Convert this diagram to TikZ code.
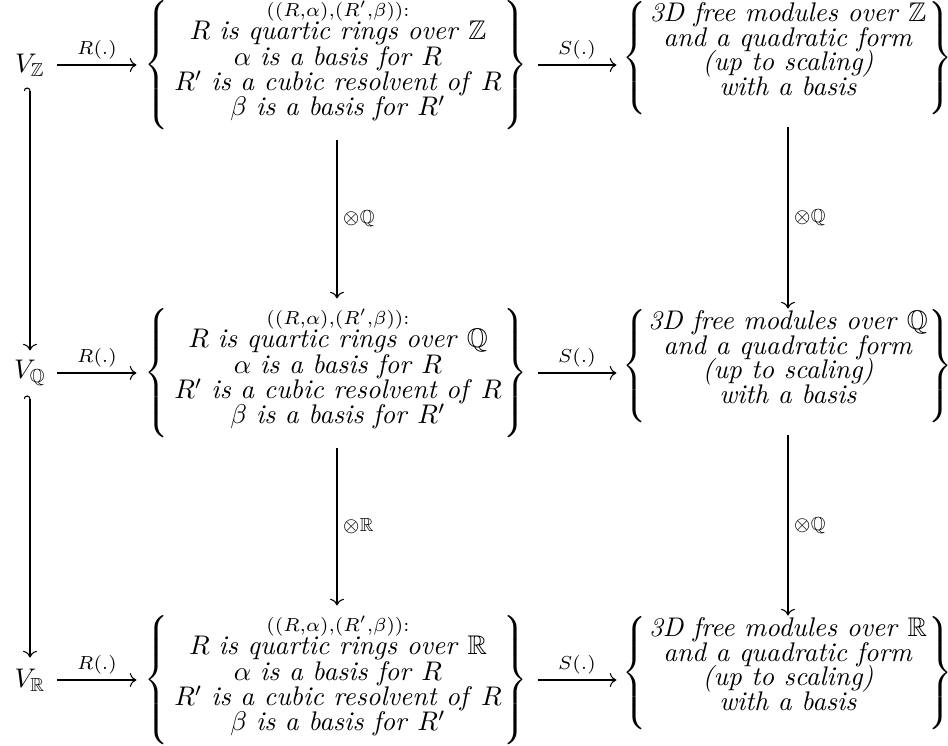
\documentclass[tikz,border=0pt]{standalone}
\usepackage{amssymb}
\usetikzlibrary{arrows.meta}
\delimiterfactor=1000
\delimitershortfall=0pt
\begin{document}
\begin{tikzpicture}[x=0.371pt,y=-0.371pt,
  vbox/.style={inner sep=0pt, minimum width=20.0pt, minimum height=16.3pt},
  mbox/.style={inner sep=0pt, minimum width=148.4pt, minimum height=54.9pt},
  sbox/.style={inner sep=0pt, minimum width=126.9pt, minimum height=46.7pt},
  txt/.style={inner sep=0pt, anchor=base},
  brc/.style={inner sep=0pt, anchor=center},
  arr/.style={->, line width=0.4pt},
  hookarr/.style={{Hooks[left]}->, line width=0.4pt},
  lbl/.style={font=\scriptsize, inner sep=2pt}]
\useasboundingbox (0,0) rectangle (948,746);
\foreach \ry/\ii/\fld in {65/1/Z,373/2/Q,680/3/R}{
  \node[vbox] (v\ii) at (30,\ry) {$V_{\mathbb{\fld}}$};
  \node[mbox] (m\ii) at (337,\ry) {};
  \node[sbox] (s\ii) at (788,\ry-1) {};
  % middle box
  \node[brc] (ml\ii) at (158,\ry) {$\left\{\vcenter{\hrule height 46.5pt width 0pt}\right.$};
  \node[brc] (mr\ii) at (514,\ry) {$\left.\vcenter{\hrule height 46.5pt width 0pt}\right\}$};
  \node[txt] (ma\ii) at (338,\ry-48.5) {$\scriptstyle((R,\alpha),(R',\beta)):$};
  \node[txt] (mb\ii) at (338,\ry-25) {$R$ \textit{is quartic rings over} $\mathbb{\fld}$};
  \node[txt] (mc\ii) at (338,\ry+0.5) {$\alpha$ \textit{is a basis for} $R$};
  \node[txt] (md\ii) at (338,\ry+26) {$R'$ \textit{is a cubic resolvent of} $R$};
  \node[txt] (me\ii) at (338,\ry+51) {$\beta$ \textit{is a basis for} $R'$};
  % right box
  \node[brc] (sl\ii) at (636,\ry-7) {$\left\{\vcenter{\hrule height 40.6pt width 0pt}\right.$};
  \node[brc] (sr\ii) at (939,\ry-7) {$\left.\vcenter{\hrule height 40.6pt width 0pt}\right\}$};
  \node[txt] (sa\ii) at (788,\ry-43) {\textit{3D free modules over} $\mathbb{\fld}$};
  \node[txt] (sb\ii) at (788,\ry-18.5) {\textit{and a quadratic form}};
  \node[txt] (sc\ii) at (788,\ry+6) {\textit{(up to scaling)}};
  \node[txt] (sd\ii) at (788,\ry+31) {\textit{with a basis}};
  % horizontal arrows
  \draw[arr] (v\ii.east) -- node[midway,above,lbl] (lr\ii) {$R(.)$} (m\ii.west);
  \draw[arr] (m\ii.east) -- node[midway,above,lbl] (ls\ii) {$S(.)$} (s\ii.west |- m\ii.east);
}
\draw[hookarr] (v1.south) -- (v2.north);
\draw[hookarr] (v2.south) -- (v3.north);
\draw[arr] (m1.south) -- node[midway,right,lbl] (t1) {$\otimes\mathbb{Q}$} (m2.north);
\draw[arr] (m2.south) -- node[midway,right,lbl] (t2) {$\otimes\mathbb{R}$} (m3.north);
\draw[arr] (s1.south) -- node[midway,right,lbl] (t3) {$\otimes\mathbb{Q}$} (s2.north);
\draw[arr] (s2.south) -- node[midway,right,lbl] (t4) {$\otimes\mathbb{Q}$} (s3.north);
\end{tikzpicture}
\end{document}
